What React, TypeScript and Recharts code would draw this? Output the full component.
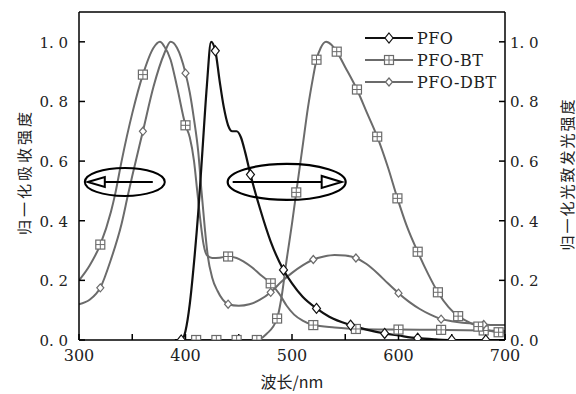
import { LineChart, Line, XAxis, YAxis, Legend, Label, ReferenceDot, ReferenceLine } from 'recharts';

const xTicks = [300, 350, 400, 450, 500, 550, 600, 650, 700];
const xLabelled = [300, 400, 500, 600, 700];
const yTicks = [0, 0.2, 0.4, 0.6, 0.8, 1.0];
const legendNames = ['PFO', 'PFO-BT', 'PFO-DBT'];

// PFO-BT absorption (squares)
const btAbsWl = [300, 310, 320, 330, 334, 340, 350, 360, 370, 376, 380, 386, 392, 400, 404, 408, 411, 414, 417, 420, 425, 432, 440, 448, 455, 462, 470, 480, 488, 495, 502, 510, 520, 540, 560, 600, 640, 680, 700];
const btAbsVal = [0.2, 0.25, 0.32, 0.43, 0.49, 0.6, 0.76, 0.89, 0.98, 1.0, 0.985, 0.94, 0.85, 0.72, 0.68, 0.6, 0.5, 0.4, 0.32, 0.285, 0.275, 0.276, 0.28, 0.275, 0.262, 0.245, 0.22, 0.19, 0.155, 0.115, 0.085, 0.065, 0.05, 0.042, 0.037, 0.035, 0.034, 0.032, 0.03];
const btAbsMarks = [320, 360, 400, 440, 480, 520, 560, 600, 640, 680];

// PFO-DBT absorption (small diamonds)
const dbtAbsWl = [300, 310, 320, 330, 340, 346, 350, 360, 370, 380, 386, 392, 400, 404, 408, 412, 415, 418, 421, 425, 430, 435, 440, 450, 460, 470, 480, 490, 500, 510, 520, 530, 540, 550, 560, 570, 580, 590, 600, 610, 620, 630, 640, 650, 660, 670, 680, 690, 700];
const dbtAbsVal = [0.12, 0.135, 0.175, 0.27, 0.39, 0.487, 0.55, 0.7, 0.85, 0.96, 1.0, 0.98, 0.895, 0.83, 0.74, 0.63, 0.5, 0.38, 0.28, 0.21, 0.165, 0.135, 0.12, 0.115, 0.12, 0.135, 0.16, 0.195, 0.225, 0.25, 0.27, 0.28, 0.285, 0.283, 0.275, 0.255, 0.225, 0.19, 0.157, 0.128, 0.104, 0.085, 0.07, 0.063, 0.058, 0.055, 0.052, 0.05, 0.05];
const dbtAbsMarks = [320, 360, 400, 440, 480, 520, 560, 600, 640, 680];

// PFO emission (black, diamonds)
const pfoEmWl = [390, 396, 400, 404, 408, 412, 416, 420, 424, 428, 432, 436, 440, 444, 448, 452, 456, 461, 470, 480, 492, 500, 510, 523, 535, 555, 570, 587, 600, 618, 635, 650, 682, 700];
const pfoEmVal = [0, 0, 0.03, 0.12, 0.26, 0.43, 0.64, 0.85, 1.0, 0.97, 0.87, 0.78, 0.72, 0.7, 0.7, 0.68, 0.63, 0.555, 0.44, 0.33, 0.235, 0.19, 0.145, 0.106, 0.078, 0.05, 0.035, 0.022, 0.015, 0.006, 0.002, 0, 0, 0];
const pfoEmMarks = [396, 428, 461, 492, 523, 555, 587, 618, 650, 682];

// PFO-BT emission (squares)
const btEmWl = [400, 410, 429, 448, 467, 476, 486, 490, 495, 500, 504, 510, 515, 520, 523, 527, 532, 537, 542, 550, 561, 570, 580, 590, 599, 608, 618, 628, 637, 647, 656, 665, 675, 685, 694, 700];
const btEmVal = [0, 0, 0, 0, 0, 0.02, 0.072, 0.14, 0.27, 0.39, 0.495, 0.65, 0.78, 0.885, 0.94, 0.98, 1.0, 0.99, 0.967, 0.915, 0.84, 0.765, 0.682, 0.58, 0.475, 0.38, 0.296, 0.22, 0.16, 0.11, 0.08, 0.062, 0.045, 0.032, 0.026, 0.024];
const btEmMarks = [410, 429, 448, 467, 486, 504, 523, 542, 561, 580, 599, 618, 637, 656, 675, 694];

const toPoints = (wl: number[], val: number[]) => wl.map((x, i) => ({ x, y: val[i] }));

const GRAY = '#6b6b6b';
const BLACK = '#111';
const SERIF = 'DejaVu Serif, serif';
const CJK = 'Noto Sans CJK SC, sans-serif';

const drawMarker = (kind: string, cx: number, cy: number, color: string, key?: string) => {
  if (kind === 'square') {
    return (
      <g key={key}>
        <rect x={cx - 4.5} y={cy - 4.5} width={9} height={9} fill="#fff" stroke={color} strokeWidth={1.2} />
        <line x1={cx} y1={cy - 4.5} x2={cx} y2={cy + 4.5} stroke={color} strokeWidth={1} />
        <line x1={cx - 4.5} y1={cy} x2={cx + 4.5} y2={cy} stroke={color} strokeWidth={1} />
      </g>
    );
  }
  const h = kind === 'diamond' ? 5 : 4;
  const w = kind === 'diamond' ? 4 : 3.5;
  return (
    <polygon
      key={key}
      points={`${cx},${cy - h} ${cx + w},${cy} ${cx},${cy + h} ${cx - w},${cy}`}
      fill="#fff"
      stroke={color}
      strokeWidth={1.2}
    />
  );
};

const makeDot = (marks: number[], kind: string, color: string, id: string) => (props: any) => {
  const { cx, cy, payload } = props;
  const key = `${id}-${payload.x}`;
  if (!marks.includes(payload.x)) return <g key={key} />;
  return drawMarker(kind, cx, cy, color, key);
};

const legendStyles = [
  { kind: 'diamond', color: BLACK },
  { kind: 'square', color: GRAY },
  { kind: 'small', color: GRAY },
];

const renderLegend = () => (
  <svg width={180} height={70}>
    {legendNames.map((name, i) => {
      const y = 11 + i * 22;
      const s = legendStyles[i];
      return (
        <g key={name}>
          <line x1={5} y1={y} x2={53} y2={y} stroke={s.color} strokeWidth={2} />
          {drawMarker(s.kind, 29, y, s.color)}
          <text x={57} y={y + 6} fontFamily={SERIF} fontSize={16} fill="#222" letterSpacing={0.5}>
            {name}
          </text>
        </g>
      );
    })}
  </svg>
);

const fmt = (v: number) => v.toFixed(1).replace('.', '.\u00a0');

const XTick = (props: any) => {
  const { x, y, payload } = props;
  if (!xLabelled.includes(payload.value)) return <g />;
  return (
    <text x={x} y={y + 27} textAnchor="middle" fontFamily={SERIF} fontSize={16} fill="#222">
      {payload.value}
    </text>
  );
};

const LeftTick = (props: any) => {
  const { x, y, payload } = props;
  return (
    <text x={x} y={y + 6} textAnchor="end" fontFamily={SERIF} fontSize={15} fill="#222">
      {fmt(payload.value)}
    </text>
  );
};

const RightTick = (props: any) => {
  const { x, y, payload } = props;
  return (
    <text x={x} y={y + 6} textAnchor="start" fontFamily={SERIF} fontSize={15} fill="#222">
      {fmt(payload.value)}
    </text>
  );
};

const LeftTitle = (props: any) => {
  const { viewBox } = props;
  const cy = viewBox.y + viewBox.height / 2 - 4;
  return (
    <text x={23} y={cy} transform={`rotate(-90 23 ${cy})`} textAnchor="middle" dominantBaseline="central" fontFamily={CJK} fontSize={15} letterSpacing={3} fill="#222">
      归一化吸收强度
    </text>
  );
};

const RightTitle = (props: any) => {
  const { viewBox } = props;
  const cy = viewBox.y + viewBox.height / 2 - 2;
  const cx = viewBox.x + 61;
  return (
    <text x={cx} y={cy} transform={`rotate(-90 ${cx} ${cy})`} textAnchor="middle" dominantBaseline="central" fontFamily={CJK} fontSize={15} letterSpacing={2} fill="#222">
      归一化光致发光强度
    </text>
  );
};

const BottomTitle = (props: any) => {
  const { viewBox } = props;
  const cx = viewBox.x + viewBox.width / 2;
  return (
    <text x={cx} y={388} textAnchor="middle" fontFamily={CJK} fontSize={16} fill="#222">
      波长/nm
    </text>
  );
};

const LeftBubble = (props: any) => {
  const { cx, cy } = props;
  return (
    <g>
      <ellipse cx={cx} cy={cy} rx={40} ry={14} fill="none" stroke="#000" strokeWidth={2} />
      <line x1={cx - 20} y1={cy} x2={cx + 28} y2={cy} stroke="#000" strokeWidth={2} />
      <polygon points={`${cx - 37},${cy} ${cx - 20},${cy - 5} ${cx - 20},${cy + 5}`} fill="#fff" stroke="#000" strokeWidth={2} />
    </g>
  );
};

const RightBubble = (props: any) => {
  const { cx, cy } = props;
  return (
    <g>
      <ellipse cx={cx} cy={cy} rx={59} ry={18} fill="none" stroke="#000" strokeWidth={2.2} />
      <line x1={cx - 54} y1={cy} x2={cx + 35} y2={cy} stroke="#000" strokeWidth={2} />
      <polygon points={`${cx + 55},${cy} ${cx + 35},${cy - 6} ${cx + 35},${cy + 6}`} fill="#fff" stroke="#000" strokeWidth={2} />
    </g>
  );
};

export default function App() {
  return (
    <div style={{ position: 'absolute', left: 0, top: 0, background: '#fff' }}>
      <LineChart width={576} height={394} margin={{ top: 12, right: 0, bottom: 0, left: 0 }}>
        <XAxis
          type="number"
          dataKey="x"
          domain={[300, 700]}
          allowDataOverflow
          ticks={xTicks}
          tickSize={-6}
          tickMargin={0}
          height={54}
          stroke="#000"
          strokeWidth={1.5}
          tick={<XTick />}
        >
          <Label content={<BottomTitle />} />
        </XAxis>
        <YAxis
          yAxisId="left"
          type="number"
          domain={[0, 1.1]}
          allowDataOverflow
          ticks={yTicks}
          width={79}
          tickSize={-6}
          tickMargin={17}
          stroke="#000"
          strokeWidth={1.5}
          tick={<LeftTick />}
        >
          <Label content={<LeftTitle />} />
        </YAxis>
        <YAxis
          yAxisId="right"
          orientation="right"
          type="number"
          domain={[0, 1.1]}
          allowDataOverflow
          ticks={yTicks}
          width={71}
          tickSize={-6}
          tickMargin={11}
          stroke="#000"
          strokeWidth={1.5}
          tick={<RightTick />}
        >
          <Label content={<RightTitle />} />
        </YAxis>
        <ReferenceLine yAxisId="left" y={1.1} stroke="#000" strokeWidth={1.5} />
        <Legend
          layout="vertical"
          align="center"
          verticalAlign="middle"
          content={renderLegend}
          wrapperStyle={{ left: 360, top: 27, width: 180 }}
        />
        <Line
          yAxisId="left"
          data={toPoints(btAbsWl, btAbsVal)}
          dataKey="y"
          name="PFO-BT"
          type="monotone"
          stroke={GRAY}
          strokeWidth={2}
          dot={makeDot(btAbsMarks, 'square', GRAY, 'bta')}
          activeDot={false}
          isAnimationActive={false}
        />
        <Line
          yAxisId="left"
          data={toPoints(dbtAbsWl, dbtAbsVal)}
          dataKey="y"
          name="PFO-DBT"
          type="monotone"
          stroke={GRAY}
          strokeWidth={2}
          dot={makeDot(dbtAbsMarks, 'small', GRAY, 'dba')}
          activeDot={false}
          isAnimationActive={false}
        />
        <Line
          yAxisId="left"
          data={toPoints(btEmWl, btEmVal)}
          dataKey="y"
          name="PFO-BT emission"
          type="monotone"
          stroke={GRAY}
          strokeWidth={2}
          dot={makeDot(btEmMarks, 'square', GRAY, 'bte')}
          activeDot={false}
          isAnimationActive={false}
        />
        <Line
          yAxisId="left"
          data={toPoints(pfoEmWl, pfoEmVal)}
          dataKey="y"
          name="PFO"
          type="monotone"
          stroke={BLACK}
          strokeWidth={2.2}
          dot={makeDot(pfoEmMarks, 'diamond', BLACK, 'pfe')}
          activeDot={false}
          isAnimationActive={false}
        />
        <ReferenceDot yAxisId="left" x={343} y={0.53} ifOverflow="visible" shape={<LeftBubble />} />
        <ReferenceDot yAxisId="left" x={495} y={0.53} ifOverflow="visible" shape={<RightBubble />} />
      </LineChart>
    </div>
  );
}
